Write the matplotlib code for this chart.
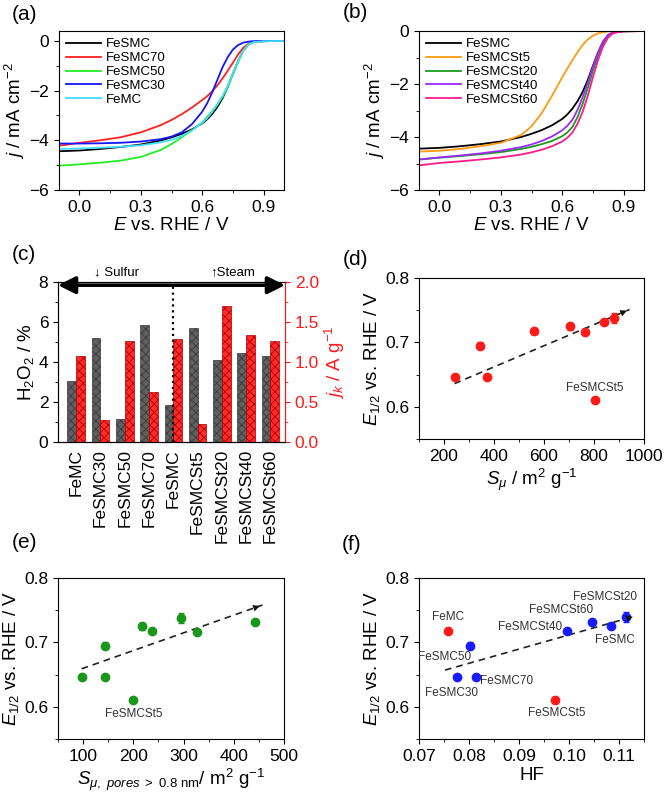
import numpy as np
import matplotlib
matplotlib.use("Agg")
import matplotlib.pyplot as plt
from matplotlib.ticker import MultipleLocator

plt.rcParams['font.family'] = ['Liberation Sans', 'DejaVu Sans']
plt.rcParams['mathtext.fontset'] = 'custom'
plt.rcParams['mathtext.rm'] = 'Liberation Sans'
plt.rcParams['mathtext.it'] = 'Liberation Sans:italic'
plt.rcParams['hatch.linewidth'] = 0.6
plt.rcParams['xtick.direction'] = 'out'
plt.rcParams['ytick.direction'] = 'out'

# ---- (a)/(b) LSV curves ----
E = [-0.1, 0.0, 0.1, 0.2, 0.3, 0.4, 0.45, 0.5, 0.55, 0.6, 0.625, 0.65, 0.675,
     0.7, 0.725, 0.75, 0.775, 0.8, 0.825, 0.85, 0.9, 1.0]

j_fesmc = [-4.44, -4.41, -4.35, -4.27, -4.17, -4.00, -3.88, -3.74, -3.56, -3.32, -3.15, -2.93, -2.65,
           -2.30, -1.85, -1.32, -0.82, -0.40, -0.15, -0.05, -0.01, 0.0]
j_fesmc70 = [-4.22, -4.10, -4.00, -3.88, -3.68, -3.38, -3.18, -2.95, -2.68, -2.38, -2.22, -2.02, -1.78,
             -1.50, -1.20, -0.88, -0.55, -0.28, -0.12, -0.04, -0.01, 0.0]
j_fesmc50 = [-5.02, -4.97, -4.90, -4.82, -4.67, -4.38, -4.15, -3.88, -3.60, -3.28, -3.05, -2.82, -2.55,
             -2.25, -1.85, -1.35, -0.85, -0.40, -0.15, -0.05, -0.01, 0.0]
j_fesmc30 = [-4.13, -4.13, -4.12, -4.10, -4.05, -3.95, -3.85, -3.68, -3.35, -2.85, -2.50, -2.05, -1.55,
             -1.05, -0.65, -0.35, -0.17, -0.07, -0.03, -0.01, 0.0, 0.0]
j_femc = [-4.35, -4.33, -4.30, -4.26, -4.20, -4.08, -3.98, -3.83, -3.60, -3.30, -3.10, -2.85, -2.55,
          -2.20, -1.80, -1.30, -0.80, -0.40, -0.15, -0.05, -0.01, 0.0]

j_st5 = [-4.55, -4.52, -4.45, -4.35, -4.22, -3.92, -3.60, -3.10, -2.45, -1.75, -1.42, -1.10, -0.80,
         -0.52, -0.32, -0.18, -0.09, -0.04, -0.02, -0.01, 0.0, 0.0]
j_st20 = [-4.85, -4.78, -4.72, -4.65, -4.57, -4.45, -4.37, -4.27, -4.15, -3.97, -3.83, -3.62, -3.25,
          -2.75, -2.15, -1.50, -0.92, -0.47, -0.18, -0.06, -0.01, 0.0]
j_st40 = [-4.85, -4.77, -4.70, -4.62, -4.52, -4.38, -4.28, -4.15, -3.98, -3.75, -3.58, -3.35, -2.98,
          -2.50, -1.95, -1.35, -0.82, -0.40, -0.15, -0.05, -0.01, 0.0]
j_st60 = [-5.07, -4.98, -4.92, -4.85, -4.77, -4.66, -4.58, -4.48, -4.35, -4.17, -4.03, -3.83, -3.50,
          -3.05, -2.45, -1.75, -1.10, -0.58, -0.24, -0.08, -0.01, 0.0]

# ---- (c) bars ----
cats = ['FeMC', 'FeSMC30', 'FeSMC50', 'FeSMC70', 'FeSMC',
        'FeSMCSt5', 'FeSMCSt20', 'FeSMCSt40', 'FeSMCSt60']
h2o2 = [3.07, 5.18, 1.15, 5.85, 1.87, 5.72, 4.08, 4.47, 4.28]
jk = [1.07, 0.28, 1.26, 0.625, 1.29, 0.22, 1.70, 1.34, 1.26]

# ---- (d)/(e)/(f) E1/2 correlations ----
e_half = [0.646, 0.695, 0.646, 0.717, 0.725, 0.716, 0.731, 0.738, 0.610]
e_err = [0.0, 0.006, 0.0, 0.004, 0.005, 0.0, 0.0, 0.008, 0.0]
s_mu = [243, 345, 373, 558, 702, 765, 841, 880, 804]
s_mu_big = [98, 143, 143, 238, 217, 327, 442, 294, 200]

hf_names = ['FeMC', 'FeSMC50', 'FeSMC30', 'FeSMC70', 'FeSMCSt5',
            'FeSMCSt40', 'FeSMCSt60', 'FeSMC', 'FeSMCSt20']
hf = [0.0757, 0.0801, 0.0775, 0.0813, 0.0971, 0.0996, 0.1045, 0.1084, 0.1113]
hf_e = [0.718, 0.695, 0.647, 0.647, 0.610, 0.717, 0.732, 0.726, 0.739]
hf_err = [0.004, 0.006, 0.0, 0.0, 0.0, 0.0, 0.0, 0.004, 0.008]
hf_col = ['#ff1a1a', '#1a1aff', '#1a1aff', '#1a1aff', '#ff1a1a',
          '#1a1aff', '#1a1aff', '#1a1aff', '#1a1aff']
hf_lab = [(0.0759, 0.739), (0.0752, 0.678), (0.0765, 0.621), (0.0875, 0.640), (0.0975, 0.590),
          (0.0922, 0.724), (0.0985, 0.750), (0.1091, 0.704), (0.1072, 0.770)]

arrow_d = [(242, 0.636), (942, 0.751)]
arrow_e = [(97, 0.659), (457, 0.758)]
arrow_f = [(0.0752, 0.657), (0.1133, 0.741)]

W, H = 664, 799
fig = plt.figure(figsize=(6.64, 7.99), dpi=100)


def box(l, t, r, b):
    return fig.add_axes([l / W, 1 - b / H, (r - l) / W, (b - t) / H])


FS = 12.5
LFS = 13.5
PFS = 15
ylab_e = '$E_{1/2}$ vs. RHE / V'


def dashed_arrow(ax, pts):
    (x0, y0), (x1, y1) = pts
    ax.plot([x0, x1], [y0, y1], '--', color='#222222', lw=1.2, dashes=(4, 3))
    ax.annotate('', xy=(x1, y1), xytext=(x1 - (x1 - x0) * 0.04, y1 - (y1 - y0) * 0.04),
                arrowprops=dict(arrowstyle='-|>', color='#111111', lw=0, mutation_scale=12))


# (a)
ax = box(59, 31, 284, 190)
for y, c, n in [(j_fesmc, 'black', 'FeSMC'), (j_fesmc70, '#ff2020', 'FeSMC70'),
                (j_fesmc50, '#22ee22', 'FeSMC50'), (j_fesmc30, '#1515ff', 'FeSMC30'),
                (j_femc, '#44ddff', 'FeMC')]:
    ax.plot(E, y, color=c, lw=1.3, label=n)
ax.set_xlim(-0.1, 1.0)
ax.set_ylim(-6, 0.4)
ax.xaxis.set_major_locator(MultipleLocator(0.3))
ax.xaxis.set_minor_locator(MultipleLocator(0.15))
ax.yaxis.set_major_locator(MultipleLocator(2))
ax.yaxis.set_minor_locator(MultipleLocator(1))
ax.tick_params(labelsize=FS)
ax.set_xlabel('$E$ vs. RHE / V', fontsize=LFS, labelpad=2)
ax.set_ylabel('$j$ / mA cm$^{-2}$', fontsize=LFS, labelpad=2)
ax.legend(loc='upper left', frameon=False, fontsize=9.5, handlelength=2.6,
          handletextpad=0.4, labelspacing=0.12, borderaxespad=0.15)
fig.text(12 / W, 1 - 15 / H, '(a)', fontsize=PFS, va='center')

# (b)
ax = box(419, 31, 644, 190)
for y, c, n in [(j_fesmc, 'black', 'FeSMC'), (j_st5, '#ff9a10', 'FeSMCSt5'),
                (j_st20, '#1a9a1a', 'FeSMCSt20'), (j_st40, '#9a2aff', 'FeSMCSt40'),
                (j_st60, '#ff1a8c', 'FeSMCSt60')]:
    ax.plot(E, y, color=c, lw=1.3, label=n)
ax.set_xlim(-0.1, 1.0)
ax.set_ylim(-6, 0)
ax.xaxis.set_major_locator(MultipleLocator(0.3))
ax.xaxis.set_minor_locator(MultipleLocator(0.15))
ax.yaxis.set_major_locator(MultipleLocator(2))
ax.yaxis.set_minor_locator(MultipleLocator(1))
ax.tick_params(labelsize=FS)
ax.set_xlabel('$E$ vs. RHE / V', fontsize=LFS, labelpad=2)
ax.set_ylabel('$j$ / mA cm$^{-2}$', fontsize=LFS, labelpad=2)
ax.legend(loc='upper left', frameon=False, fontsize=9.5, handlelength=2.6,
          handletextpad=0.4, labelspacing=0.12, borderaxespad=0.15)
fig.text(343 / W, 1 - 13 / H, '(b)', fontsize=PFS, va='center')

# (c)
ax = box(58, 282, 285, 442)
x = np.arange(len(cats))
ax.bar(x - 0.18, h2o2, width=0.36, color='#606060', edgecolor='#3a3a3a', hatch='xxxx', lw=0.5)
ax.set_ylim(0, 8)
ax.set_xlim(-0.75, 8.6)
ax.yaxis.set_major_locator(MultipleLocator(2))
ax.yaxis.set_minor_locator(MultipleLocator(1))
ax.set_xticks(x)
ax.set_xticklabels(cats, rotation=90, fontsize=FS)
ax.tick_params(axis='x', length=0, pad=5)
ax.tick_params(axis='y', labelsize=FS)
ax.set_ylabel('H$_2$O$_2$ / %', fontsize=LFS, labelpad=2)
ax2 = ax.twinx()
ax2.bar(x + 0.18, jk, width=0.36, color='#ff2a2a', edgecolor='#b30000', hatch='xxxx', lw=0.5)
ax2.set_ylim(0, 2)
ax2.yaxis.set_major_locator(MultipleLocator(0.5))
ax2.yaxis.set_minor_locator(MultipleLocator(0.25))
ax2.tick_params(axis='y', which='both', colors='#ff1a1a', labelsize=FS)
ax2.spines['right'].set_color('#ff1a1a')
ax2.set_ylabel('$j_k$ / A g$^{-1}$', fontsize=LFS, color='#ff1a1a', labelpad=3)
ax2.plot([4, 4], [0, 1.96], ':', color='black', lw=1.6)
ax2.annotate('', xy=(0, 0.98), xytext=(1, 0.98), xycoords='axes fraction',
             arrowprops=dict(arrowstyle='<|-|>', color='black', lw=2.6, mutation_scale=26,
                             shrinkA=0, shrinkB=0))
trans = ax2.get_xaxis_transform()
ax2.text(1.67, 1.045, '↓ Sulfur', transform=trans, ha='center', fontsize=9.5)
ax2.text(6.45, 1.045, '↑Steam', transform=trans, ha='center', fontsize=9.5)
fig.text(12 / W, 1 - 255 / H, '(c)', fontsize=PFS, va='center')

# (d)
ax = box(419, 278, 644, 439)
ax.errorbar(s_mu, e_half, yerr=e_err, fmt='o', color='#ff1a1a', ms=6, capsize=2, elinewidth=0.8)
dashed_arrow(ax, arrow_d)
ax.text(804, 0.629, 'FeSMCSt5', fontsize=8.5, color='#333333', ha='center', va='center')
ax.set_xlim(100, 1000)
ax.set_ylim(0.55, 0.8)
ax.xaxis.set_major_locator(MultipleLocator(200))
ax.xaxis.set_minor_locator(MultipleLocator(100))
ax.yaxis.set_major_locator(MultipleLocator(0.1))
ax.yaxis.set_minor_locator(MultipleLocator(0.05))
ax.tick_params(labelsize=FS)
ax.set_xlabel('$S_\\mu$ / m$^2$ g$^{-1}$', fontsize=LFS, labelpad=2)
ax.set_ylabel(ylab_e, fontsize=LFS, labelpad=2)
fig.text(343 / W, 1 - 260 / H, '(d)', fontsize=PFS, va='center')

# (e)
ax = box(58, 578, 284, 739)
ax.errorbar(s_mu_big, e_half, yerr=e_err, fmt='o', color='#1a961a', ms=6, capsize=2, elinewidth=0.8)
dashed_arrow(ax, arrow_e)
ax.text(200, 0.589, 'FeSMCSt5', fontsize=8.5, color='#333333', ha='center', va='center')
ax.set_xlim(50, 500)
ax.set_ylim(0.55, 0.8)
ax.xaxis.set_major_locator(MultipleLocator(100))
ax.xaxis.set_minor_locator(MultipleLocator(50))
ax.yaxis.set_major_locator(MultipleLocator(0.1))
ax.yaxis.set_minor_locator(MultipleLocator(0.05))
ax.tick_params(labelsize=FS)
ax.set_xlabel('$S_{\\mu,\\ pores\\ \\mathrm{>\\ 0.8\\ nm}}$/ m$^2$ g$^{-1}$', fontsize=LFS, labelpad=2)
ax.set_ylabel(ylab_e, fontsize=LFS, labelpad=2)
fig.text(12 / W, 1 - 542 / H, '(e)', fontsize=PFS, va='center')

# (f)
ax = box(419, 578, 644, 739)
for xi, yi, ei, c in zip(hf, hf_e, hf_err, hf_col):
    ax.errorbar([xi], [yi], yerr=[ei], fmt='o', color=c, ms=6, capsize=2, elinewidth=0.8)
dashed_arrow(ax, arrow_f)
for n, (tx, ty) in zip(hf_names, hf_lab):
    ax.text(tx, ty, n, fontsize=8.5, color='#333333', ha='center', va='center')
ax.set_xlim(0.07, 0.115)
ax.set_ylim(0.55, 0.8)
ax.xaxis.set_major_locator(MultipleLocator(0.01))
ax.xaxis.set_minor_locator(MultipleLocator(0.005))
ax.yaxis.set_major_locator(MultipleLocator(0.1))
ax.yaxis.set_minor_locator(MultipleLocator(0.05))
ax.tick_params(labelsize=FS)
ax.set_xlabel('HF', fontsize=LFS, labelpad=2)
ax.set_ylabel(ylab_e, fontsize=LFS, labelpad=2)
fig.text(342 / W, 1 - 545 / H, '(f)', fontsize=PFS, va='center')

fig.savefig('out.png', dpi=100)
